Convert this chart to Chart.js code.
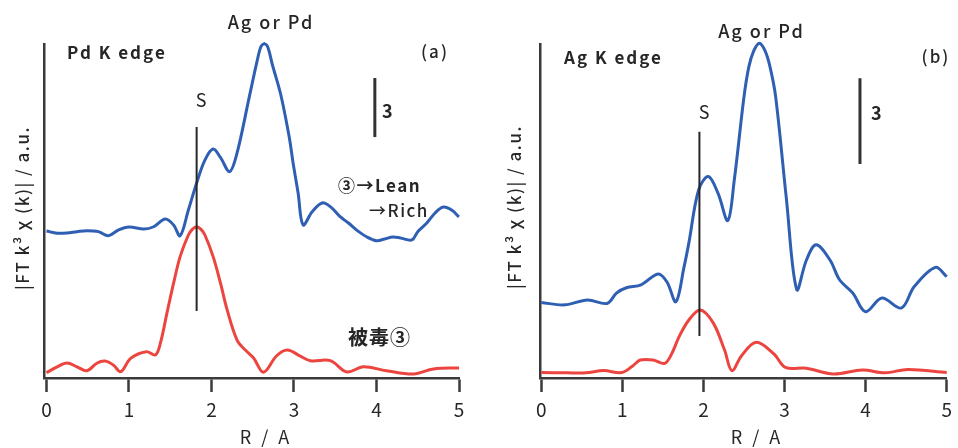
<!DOCTYPE html>
<html lang="ja">
<head>
<meta charset="UTF-8">
<title>FT EXAFS Pd / Ag K edge</title>
<script src="https://cdn.jsdelivr.net/npm/chart.js"></script>
<style>
    * { margin: 0; padding: 0; box-sizing: border-box; }
    body { width: 958px; height: 448px; background: #ffffff; position: relative; overflow: hidden; }
    canvas { position: absolute; top: 0; }
    #chartA { left: 0; }
    #chartB { left: 479px; }
</style>
</head>
<body>
<canvas id="chartA" width="479" height="448"></canvas>
<canvas id="chartB" width="479" height="448"></canvas>

<script>
    // x ticks (R / A)
    var X_TICKS = [0, 1, 2, 3, 4, 5];

    // (a) Pd K edge - blue: (3) Lean -> Rich
    var R_A_BLUE = [0, 0.13, 0.25, 0.37, 0.49, 0.63, 0.75, 0.87, 1.0, 1.18, 1.3, 1.44, 1.54, 1.62, 1.72, 1.82, 1.92, 2.02, 2.11, 2.22, 2.31, 2.45, 2.55, 2.6, 2.64, 2.68, 2.74, 2.84, 2.94, 2.99, 3.05, 3.11, 3.22, 3.34, 3.44, 3.56, 3.66, 3.76, 3.88, 4.0, 4.1, 4.2, 4.29, 4.43, 4.5, 4.61, 4.71, 4.81, 4.91, 5.0];
    var A_BLUE   = [7.47, 7.36, 7.37, 7.44, 7.49, 7.44, 7.23, 7.52, 7.68, 7.57, 7.69, 8.08, 7.78, 7.23, 8.54, 9.91, 11.08, 11.64, 11.2, 10.49, 11.44, 14.13, 16.06, 16.85, 17.0, 16.85, 15.9, 14.4, 12.3, 10.91, 9.4, 7.78, 8.45, 8.9, 8.71, 8.2, 7.88, 7.52, 7.18, 6.98, 7.07, 7.17, 7.12, 7.02, 7.44, 7.88, 8.39, 8.69, 8.54, 8.19];

    // (a) Pd K edge - red: poisoned (3)
    var R_A_RED = [0, 0.13, 0.25, 0.37, 0.49, 0.61, 0.71, 0.81, 0.9, 1.02, 1.21, 1.32, 1.38, 1.46, 1.54, 1.62, 1.72, 1.77, 1.82, 1.87, 1.92, 2.02, 2.11, 2.19, 2.31, 2.41, 2.51, 2.63, 2.79, 2.92, 3.07, 3.2, 3.44, 3.64, 3.84, 4.12, 4.45, 4.69, 5.0];
    var A_RED   = [0.27, 0.57, 0.76, 0.57, 0.37, 0.75, 0.86, 0.66, 0.32, 1.0, 1.34, 1.17, 1.76, 3.3, 4.81, 6.17, 7.27, 7.57, 7.69, 7.57, 7.27, 6.17, 4.81, 3.46, 1.93, 1.42, 1.02, 0.29, 1.13, 1.42, 1.13, 0.88, 0.88, 0.31, 0.57, 0.37, 0.2, 0.46, 0.51];

    // (b) Ag K edge - blue
    var R_B_BLUE = [0, 0.29, 0.57, 0.81, 0.93, 1.05, 1.23, 1.44, 1.55, 1.66, 1.76, 1.82, 1.94, 2.06, 2.18, 2.3, 2.38, 2.5, 2.56, 2.62, 2.69, 2.76, 2.82, 2.89, 3.02, 3.15, 3.27, 3.39, 3.56, 3.68, 3.84, 4.0, 4.2, 4.44, 4.6, 4.86, 5.0];
    var B_BLUE   = [2.64, 2.56, 2.73, 2.61, 2.98, 3.16, 3.26, 3.64, 3.36, 2.67, 3.88, 4.73, 6.58, 7.05, 6.46, 5.51, 6.93, 9.85, 10.9, 11.45, 11.72, 11.45, 10.9, 9.85, 6.35, 3.1, 4.13, 4.66, 4.13, 3.43, 2.98, 2.32, 2.8, 2.45, 3.2, 3.87, 3.55];

    // (b) Ag K edge - red
    var R_B_RED = [0, 0.32, 0.55, 0.77, 0.99, 1.13, 1.22, 1.38, 1.52, 1.6, 1.7, 1.82, 1.96, 2.12, 2.26, 2.35, 2.47, 2.65, 2.87, 3.01, 3.27, 3.6, 3.96, 4.24, 4.52, 5.0];
    var B_RED   = [0.19, 0.18, 0.18, 0.26, 0.19, 0.43, 0.63, 0.63, 0.51, 0.8, 1.45, 2.03, 2.38, 1.93, 0.98, 0.26, 0.78, 1.25, 0.84, 0.37, 0.34, 0.14, 0.28, 0.18, 0.3, 0.19];

    // "S" marker lines [R, y from, y to] and the 3-unit scale bars
    var S_LINE_A = [1.82, 3.41, 12.76];
    var S_LINE_B = [1.95, 1.47, 8.62];
    var BAR_A = [3.98, 12.25, 15.25];
    var BAR_B = [3.93, 7.49, 10.49];

    var FONT = '"Noto Sans CJK JP", "Noto Sans", sans-serif';
    var BLUE = '#2f5fb3';
    var RED = '#ec4540';
    var INK = '#262626';

    function pts(xs, ys) {
        return xs.map(function (x, i) { return { x: x, y: ys[i] }; });
    }
    function vline(v) {
        return [{ x: v[0], y: v[1] }, { x: v[0], y: v[2] }];
    }

    // text labels drawn on the canvas
    var textPlugin = {
        id: 'texts',
        afterDraw: function (chart, args, opts) {
            var ctx = chart.ctx;
            ctx.save();
            ctx.fillStyle = INK;
            ctx.textBaseline = 'middle';
            opts.items.forEach(function (t) {
                ctx.font = t.font + ' ' + FONT;
                ctx.letterSpacing = (t.ls || 0) + 'px';
                ctx.textAlign = t.align || 'center';
                ctx.save();
                ctx.translate(t.x, t.y);
                if (t.rot) ctx.rotate(t.rot);
                ctx.fillText(t.text, 0, 0);
                ctx.restore();
            });
            ctx.restore();
        }
    };

    function makeChart(id, cfg) {
        var ctx = document.getElementById(id).getContext('2d');
        return new Chart(ctx, {
            type: 'line',
            data: {
                datasets: [
                    { data: pts(cfg.rBlue, cfg.blue), borderColor: BLUE, borderWidth: 3, order: 2, tension: 0.35, clip: false },
                    { data: pts(cfg.rRed, cfg.red), borderColor: RED, borderWidth: 3, order: 3, tension: 0.35, clip: false },
                    { data: vline(cfg.sLine), borderColor: INK, borderWidth: 2, order: 1 },
                    { data: vline(cfg.bar), borderColor: '#333333', borderWidth: 3, order: 1 }
                ]
            },
            options: {
                responsive: false,
                animation: false,
                devicePixelRatio: 1,
                layout: { padding: { top: 44, right: cfg.padRight, left: 0, bottom: 0 } },
                elements: { point: { radius: 0 }, line: { fill: false } },
                plugins: {
                    legend: { display: false },
                    tooltip: { enabled: false },
                    texts: { items: cfg.texts }
                },
                scales: {
                    x: {
                        type: 'linear',
                        min: cfg.xMin,
                        max: 5,
                        afterBuildTicks: function (s) { s.ticks = X_TICKS.map(function (v) { return { value: v }; }); },
                        afterFit: function (s) { s.height = 70; },
                        ticks: { color: INK, padding: 6, font: { size: 19, family: FONT }, callback: function (v) { return String(v); } },
                        grid: { display: true, drawOnChartArea: false, drawTicks: true, tickLength: 14, tickWidth: 2.5, tickColor: '#3a3a3a' },
                        border: { display: true, color: '#3a3a3a', width: 2.5 }
                    },
                    y: {
                        min: 0,
                        max: cfg.yMax,
                        afterFit: function (s) { s.width = cfg.axisLeft; },
                        ticks: { display: false },
                        grid: { display: false },
                        border: { display: true, color: '#3a3a3a', width: 2.5 }
                    }
                }
            },
            plugins: [textPlugin]
        });
    }

    var YTITLE = '|FT k³ χ (k)| / a.u.';

    makeChart('chartA', {
        rBlue: R_A_BLUE, blue: A_BLUE, rRed: R_A_RED, red: A_RED,
        sLine: S_LINE_A, bar: BAR_A,
        xMin: -0.03, yMax: 16.98, axisLeft: 44, padRight: 20,
        texts: [
            { text: 'Ag or Pd', x: 271, y: 22, font: '500 18px', ls: 2 },
            { text: 'Pd K edge', x: 67, y: 53, align: 'left', font: 'bold 17px', ls: 2 },
            { text: '(a)', x: 435, y: 52, font: '500 17px', ls: 2 },
            { text: 'S', x: 201, y: 100, font: '18px' },
            { text: '3', x: 382, y: 111, align: 'left', font: 'bold 18px' },
            { text: '③→Lean', x: 338, y: 186, align: 'left', font: 'bold 17px', ls: 1.5 },
            { text: '→Rich', x: 369, y: 211, align: 'left', font: '500 17px', ls: 1.5 },
            { text: '被毒③', x: 348, y: 337, align: 'left', font: 'bold 20px', ls: 1 },
            { text: 'R / A', x: 266, y: 437, font: '18px', ls: 3 },
            { text: YTITLE, x: 23, y: 208, rot: -Math.PI / 2, font: '500 17px', ls: 1.5 }
        ]
    });

    makeChart('chartB', {
        rBlue: R_B_BLUE, blue: B_BLUE, rRed: R_B_RED, red: B_RED,
        sLine: S_LINE_B, bar: BAR_B,
        xMin: -0.016, yMax: 11.69, axisLeft: 61, padRight: 4,
        texts: [
            { text: 'Ag or Pd', x: 282.5, y: 31, font: '500 18px', ls: 2 },
            { text: 'Ag K edge', x: 85, y: 58, align: 'left', font: 'bold 17px', ls: 2 },
            { text: '(b)', x: 457, y: 57, font: '500 17px', ls: 2 },
            { text: 'S', x: 225, y: 112, font: '18px' },
            { text: '3', x: 392, y: 113, align: 'left', font: 'bold 18px' },
            { text: 'R / A', x: 278, y: 437, font: '18px', ls: 3 },
            { text: YTITLE, x: 36, y: 207, rot: -Math.PI / 2, font: '500 17px', ls: 1.5 }
        ]
    });
</script>
</body>
</html>
